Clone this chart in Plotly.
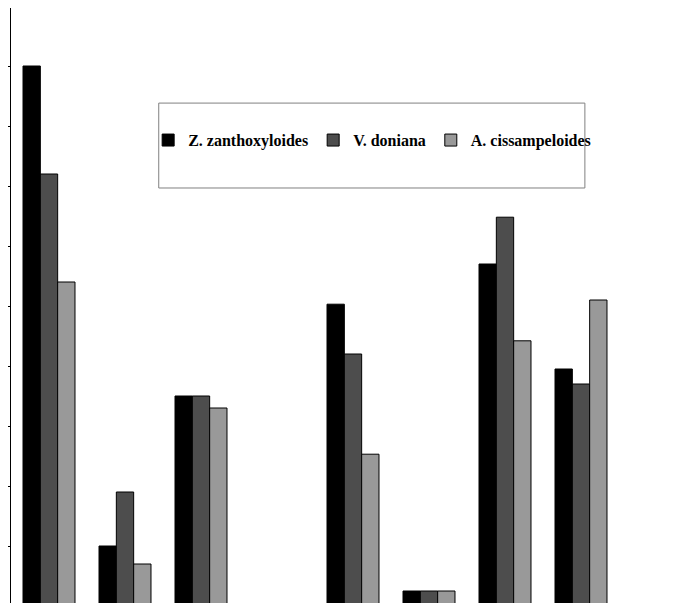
import plotly.graph_objects as go

categories = [0, 1, 2, 3, 4, 5, 6, 7, 8]
z_zanth = [9.0, 1.0, 3.5, None, 5.03, 0.25, 5.7, 3.95, None]
v_doniana = [7.2, 1.9, 3.5, None, 4.2, 0.25, 6.48, 3.7, None]
a_cissam = [5.4, 0.7, 3.3, None, 2.53, 0.25, 4.42, 5.1, None]

fig = go.Figure()
for name, vals, col in [("Z. zanthoxyloides", z_zanth, "#000000"),
                        ("V. doniana", v_doniana, "#4d4d4d"),
                        ("A. cissampeloides", a_cissam, "#999999")]:
    fig.add_bar(x=categories, y=vals, name=name, marker=dict(color=col, line=dict(color="black", width=1)))

fig.add_shape(type="rect", xref="paper", yref="paper", x0=0.216, x1=0.839, y0=0.699, y1=0.841,
              line=dict(color="#808080", width=1), fillcolor="white", layer="below")

fig.update_layout(
    width=689, height=603, barmode="group", bargap=0.316, bargroupgap=0,
    plot_bgcolor="white", paper_bgcolor="white",
    margin=dict(l=3, r=2, t=0, b=5, autoexpand=False),
    font=dict(family="Liberation Serif", size=16, color="black"),
    legend=dict(orientation="h", x=0.528, y=0.779, xanchor="center", yanchor="middle",
                bgcolor="rgba(0,0,0,0)", borderwidth=0,
                font=dict(family="Liberation Serif", size=16, weight="bold"),
                itemwidth=30),
    xaxis=dict(range=[-0.5, 8.5], showline=True, linecolor="black", tickvals=[i - 0.5 for i in range(10)],
               ticks="outside", ticklen=5, tickcolor="black", showticklabels=False, showgrid=False,
               zeroline=False, automargin=False),
    yaxis=dict(range=[0, 598/60], showline=True, linecolor="black", dtick=1, ticks="outside", ticklen=5,
               tickcolor="black", showticklabels=False, showgrid=False, zeroline=False, automargin=False),
)
fig.write_html("out.html")
